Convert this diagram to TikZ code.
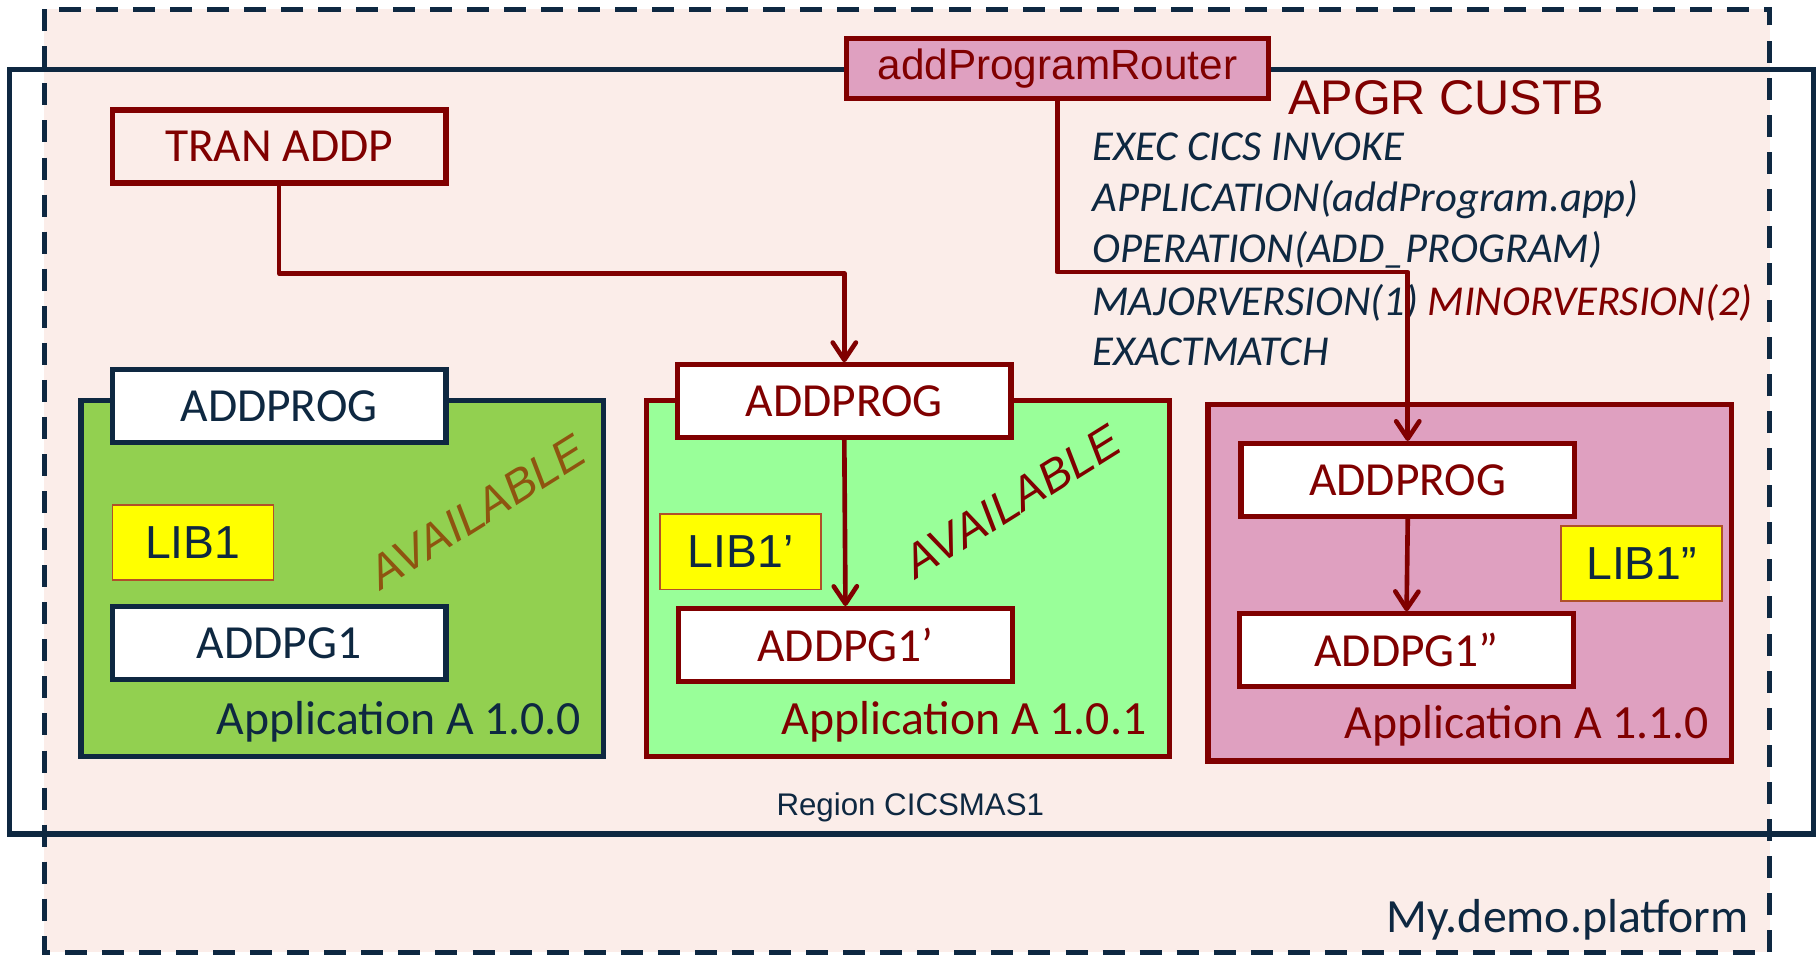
\documentclass[tikz,border=0pt]{standalone}
\usepackage{fontspec}
\setmainfont{Carlito}
\newfontfamily\arialf{Liberation Sans}
\usetikzlibrary{arrows.meta}
\definecolor{navy}{HTML}{0E2841}
\definecolor{maroon}{HTML}{800000}
\definecolor{platfill}{HTML}{FBEDE9}
\definecolor{pinkfill}{HTML}{DFA0C0}
\definecolor{greenA}{HTML}{92D050}
\definecolor{greenB}{HTML}{99FF99}
\definecolor{libyellow}{HTML}{FFFF00}
\definecolor{libborder}{HTML}{B0502A}
\definecolor{availbrown}{HTML}{8E5410}
\begin{document}
\begin{tikzpicture}[x=1pt,y=-1pt,
 every node/.style={inner sep=0pt},
 prog/.style={draw, line width=4.5pt, fill=white, minimum width=288pt, minimum height=63pt, font=\fontsize{41}{48}\selectfont},
 navyprog/.style={prog, draw=navy, text=navy},
 redprog/.style={prog, draw=maroon, text=maroon},
 lib/.style={draw=libborder, line width=1.3pt, fill=libyellow, minimum width=139pt, minimum height=65pt, text=navy, font=\arialf\fontsize{40}{48}\selectfont},
 appbox/.style={line width=4.5pt},
 applabel/.style={anchor=base east, font=\fontsize{41.2}{48}\selectfont},
 avail/.style={font=\arialf\itshape\fontsize{40}{48}\selectfont, rotate=32},
 conn/.style={draw=maroon, line width=4pt, line cap=round, line join=round, -{Straight Barb[length=15pt,width=20pt,round]}},
 code/.style={anchor=base west, text=navy, font=\itshape\fontsize{36.8}{44}\selectfont},
]
\useasboundingbox (0,0) rectangle (1568,825);
% platform
\draw[navy, line width=4.3pt, dash pattern=on 19pt off 13pt, fill=platfill] (38,8) rectangle (1528,822);
% region
\draw[navy, line width=4.6pt] (8,60) rectangle (1566,720);
% router
\node[draw=maroon, line width=4.5pt, fill=pinkfill, minimum width=364pt, minimum height=52pt, text=maroon, font=\arialf\fontsize{36.5}{44}\selectfont] (router) at (913,59) {addProgramRouter};
\node[anchor=base west, text=maroon, font=\arialf\fontsize{42}{50}\selectfont] (apgr) at (1112,99) {APGR CUSTB};
% code
\node[code] (c1) at (943,139) {EXEC CICS INVOKE};
\node[code] (c2) at (943,183) {APPLICATION(addProgram.app)};
\node[code] (c3) at (943,227) {OPERATION(ADD\_PROGRAM)};
\node[code] (c4) at (943,272) {MAJORVERSION(1) \textcolor{maroon}{MINORVERSION(2)}};
\node[code] (c5) at (943,316) {EXACTMATCH};
% tran
\node[prog, fill=none, draw=maroon, text=maroon] (tran) at (241,126.5) {TRAN ADDP};
% application A 1.0.0
\draw[appbox, draw=navy, fill=greenA] (70,346) rectangle (521,653);
\node[navyprog] (p1) at (241,350.5) {ADDPROG};
\node[lib] (lib1) at (166.5,468.5) {LIB1};
\node[navyprog] (g1) at (241,555) {ADDPG1};
\node[applabel, text=navy] (a1) at (502,634) {Application A 1.0.0};
\node[avail, text=availbrown] (av1) at (412,442) {AVAILABLE};
% application A 1.0.1
\draw[appbox, draw=maroon, fill=greenB] (558,346) rectangle (1010,653);
\node[redprog] (p2) at (729,346.5) {ADDPROG};
\node[lib] (lib2) at (639.5,476.5) {LIB1’};
\node[redprog] (g2) at (730,557) {ADDPG1’};
\node[applabel, text=maroon] (a2) at (990,634) {Application A 1.0.1};
\node[avail, text=maroon] (av2) at (874,433) {AVAILABLE};
% application A 1.1.0
\draw[appbox, draw=maroon, fill=pinkfill] (1043,349) rectangle (1495,657);
\node[redprog] (p3) at (1215.5,414.5) {ADDPROG};
\node[lib] (lib3) at (1417.5,486.5) {LIB1”};
\node[redprog] (g3) at (1214.5,561.5) {ADDPG1”};
\node[applabel, text=maroon] (a3) at (1476,638) {Application A 1.1.0};
% labels
\node[text=navy, font=\arialf\fontsize{27}{32}\selectfont] (region) at (786,697) {Region CICSMAS1};
\node[applabel, text=navy] (plat) at (1510,805) {My.demo.platform};
% connectors
\coordinate (b1) at (241,236);
\coordinate (b2) at (913,235);
\draw[conn] (tran.south) -- (b1) -| (p2.north);
\draw[conn] (router.south) -- (b2) -| (p3.north);
\draw[conn] (p2.south) -- (g2.north);
\draw[conn] (p3.south) -- (g3.north);
\end{tikzpicture}
\end{document}
